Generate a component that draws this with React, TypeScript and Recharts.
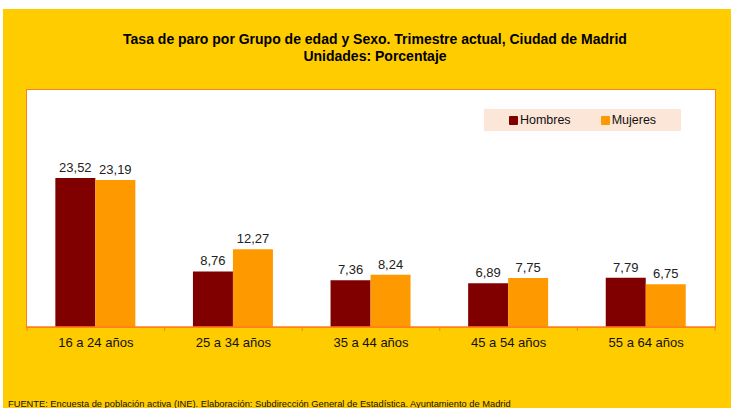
import React from 'react';
import { BarChart, Bar, XAxis, YAxis, Legend, LabelList } from 'recharts';

const categories = ['16 a 24 años', '25 a 34 años', '35 a 44 años', '45 a 54 años', '55 a 64 años'];
const hombres = [23.52, 8.76, 7.36, 6.89, 7.79];
const mujeres = [23.19, 12.27, 8.24, 7.75, 6.75];

const data = categories.map((name, i) => ({ name, Hombres: hombres[i], Mujeres: mujeres[i] }));

const FONT = 'Arial, "Liberation Sans", sans-serif';
const ORANGE = '#FF7F1E';
const BAND = 688 / categories.length;

const fmt = (v: any) => Number(v).toFixed(2).replace('.', ',');

const CategoryTick = (props: any) => {
  const { x, y, payload, index } = props;
  return (
    <g>
      <line x1={x - BAND / 2} y1={y} x2={x - BAND / 2} y2={y + 4} stroke={ORANGE} />
      {index === categories.length - 1 && (
        <line x1={x + BAND / 2} y1={y} x2={x + BAND / 2} y2={y + 4} stroke={ORANGE} />
      )}
      <text x={x} y={y + 20} textAnchor="middle" fontSize={13} fontFamily={FONT} fill="#111">
        {payload.value}
      </text>
    </g>
  );
};

const LegendBox = (props: any) => {
  const items = props.payload || [];
  return (
    <div
      style={{
        width: 197,
        height: 22,
        background: '#FCE6D8',
        display: 'flex',
        alignItems: 'center',
        justifyContent: 'center',
        gap: 30,
        fontFamily: FONT,
        fontSize: 12.5,
        color: '#111',
      }}
    >
      {items.map((it: any) => (
        <div key={it.value} style={{ display: 'flex', alignItems: 'center' }}>
          <span style={{ width: 9, height: 9, background: it.color, borderRadius: 1, marginRight: 2, display: 'inline-block' }} />
          {it.value}
        </div>
      ))}
    </div>
  );
};

export default function App() {
  return (
    <div style={{ position: 'absolute', left: 0, top: 0, width: 731, height: 408, background: '#fff', overflow: 'hidden' }}>
      <div style={{ position: 'absolute', left: 3, top: 9, width: 728, height: 399, background: '#FFCC00' }} />
      <div
        style={{
          position: 'absolute',
          left: 0,
          top: 31,
          width: 750,
          textAlign: 'center',
          fontFamily: FONT,
          fontWeight: 'bold',
          fontSize: 14,
          lineHeight: '17px',
          color: '#000',
        }}
      >
        <div>Tasa de paro por Grupo de edad y Sexo. Trimestre actual, Ciudad de Madrid</div>
        <div>Unidades: Porcentaje</div>
      </div>
      <div
        style={{
          position: 'absolute',
          left: 26,
          top: 89,
          width: 690,
          height: 239,
          boxSizing: 'border-box',
          background: '#fff',
          border: `1.5px solid ${ORANGE}`,
        }}
      />
      <div style={{ position: 'absolute', left: 0, top: 0 }}>
        <BarChart
          width={731}
          height={408}
          data={data}
          margin={{ top: 90, right: 16, bottom: 51, left: 27 }}
          barCategoryGap="20.6%"
          barGap={0}
        >
          <XAxis
            dataKey="name"
            height={30}
            interval={0}
            tickSize={0}
            tickMargin={0}
            tickLine={false}
            axisLine={{ stroke: ORANGE, strokeWidth: 1.5 }}
            tick={<CategoryTick />}
          />
          <YAxis hide domain={[0, 37.4]} />
          <Legend
            layout="horizontal"
            verticalAlign="middle"
            content={<LegendBox />}
            wrapperStyle={{ position: 'absolute', left: 484, top: 109, width: 197, height: 22 }}
          />
          <Bar dataKey="Hombres" name="Hombres" fill="#800000" isAnimationActive={false}>
            <LabelList dataKey="Hombres" position="top" offset={6} formatter={fmt} fontSize={13} fontFamily={FONT} fill="#222" />
          </Bar>
          <Bar dataKey="Mujeres" name="Mujeres" fill="#FF9900" isAnimationActive={false}>
            <LabelList dataKey="Mujeres" position="top" offset={6} formatter={fmt} fontSize={13} fontFamily={FONT} fill="#222" />
          </Bar>
        </BarChart>
      </div>
      <div
        style={{
          position: 'absolute',
          left: 8,
          top: 399,
          fontFamily: FONT,
          fontSize: 9.3,
          lineHeight: '11px',
          color: '#111',
          whiteSpace: 'nowrap',
        }}
      >
        FUENTE: Encuesta de población activa (INE). Elaboración: Subdirección General de Estadística. Ayuntamiento de Madrid
      </div>
    </div>
  );
}
